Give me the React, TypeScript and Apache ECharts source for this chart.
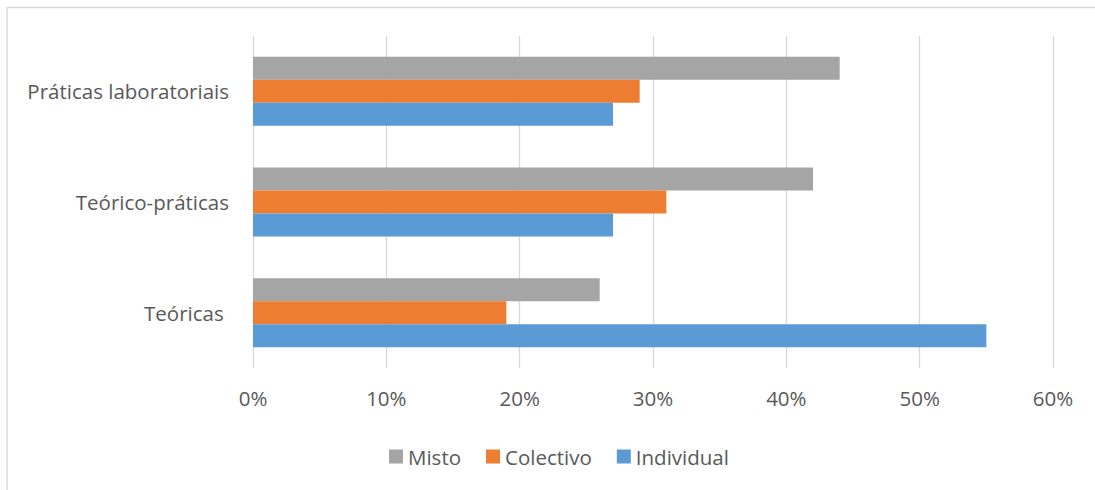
import React, { useEffect, useRef } from "react";
import * as echarts from "echarts";

const categories = ["Teóricas ", "Teórico-práticas", "Práticas laboratoriais"];
const individual = [55, 27, 27];
const colectivo = [19, 31, 29];
const misto = [26, 42, 44];
const xTicks = [0, 10, 20, 30, 40, 50, 60];
const legendOrder = ["Misto", "Colectivo", "Individual"];

const FONT = "Open Sans";
const TEXT = "#595959";
const FS = 20.5;

export default function App() {
  const ref = useRef<HTMLDivElement>(null);
  useEffect(() => {
    document.body.style.margin = "0";
    const chart = echarts.init(ref.current!, null, { renderer: "svg" });
    chart.setOption({
      animation: false,
      backgroundColor: "#ffffff",
      textStyle: { fontFamily: FONT, color: TEXT },
      grid: { left: 253, right: 42, top: 36, bottom: 122, containLabel: false },
      legend: {
        data: legendOrder,
        left: 384,
        top: 441,
        itemWidth: 14,
        itemHeight: 14,
        itemGap: 25,
        icon: "rect",
        textStyle: { fontFamily: FONT, fontSize: FS, color: TEXT },
      },
      xAxis: {
        type: "value",
        min: xTicks[0],
        max: xTicks[xTicks.length - 1],
        interval: 10,
        axisLine: { show: false },
        axisTick: { show: false },
        splitLine: { show: true, lineStyle: { color: "#d9d9d9", width: 1.3 } },
        axisLabel: {
          formatter: "{value}%",
          margin: 19,
          fontFamily: FONT,
          fontSize: FS,
          color: TEXT,
        },
      },
      yAxis: {
        type: "category",
        data: categories,
        axisLine: { show: false },
        axisTick: { show: false },
        axisLabel: { margin: 24, fontFamily: FONT, fontSize: FS, color: TEXT },
      },
      series: [
        { name: "Misto", type: "bar", data: misto, barWidth: 23, barGap: "0%", itemStyle: { color: "#a5a5a5" } },
        { name: "Colectivo", type: "bar", data: colectivo, barWidth: 23, barGap: "0%", itemStyle: { color: "#ed7d31" } },
        { name: "Individual", type: "bar", data: individual, barWidth: 23, barGap: "0%", itemStyle: { color: "#5b9bd5" } },
      ],
      graphic: [
        { type: "line", shape: { x1: 7, y1: 7.5, x2: 1095, y2: 7.5 }, style: { stroke: "#d9d9d9", lineWidth: 1.5 } },
        { type: "line", shape: { x1: 7, y1: 7, x2: 7, y2: 490 }, style: { stroke: "#d9d9d9", lineWidth: 1.5 } },
      ],
    });
    return () => chart.dispose();
  }, []);
  return <div ref={ref} style={{ width: 1095, height: 490 }} />;
}
